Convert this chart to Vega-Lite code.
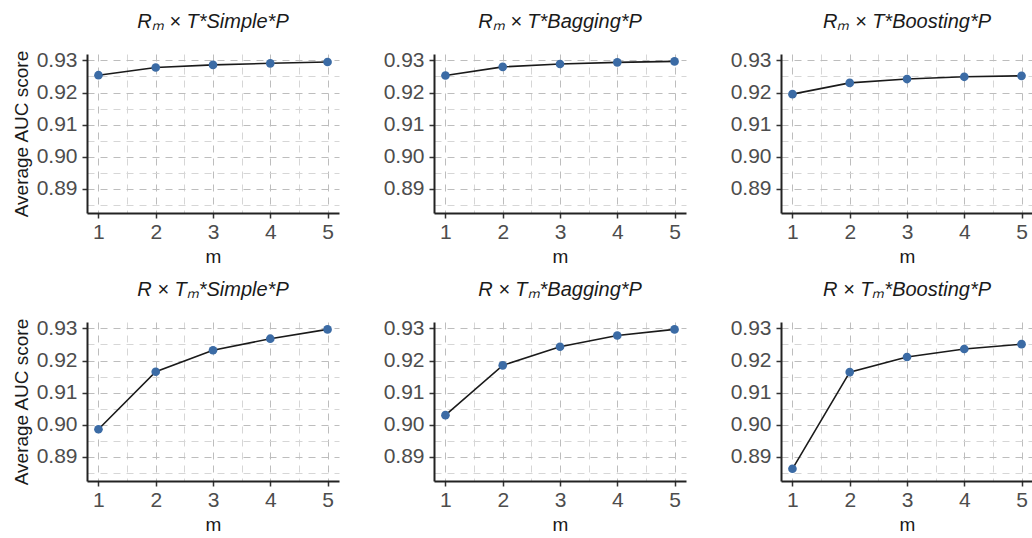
{
  "$schema": "https://vega.github.io/schema/vega-lite/v6.json",
  "padding": {"left": 12, "top": 12, "right": 0, "bottom": 0},
  "background": "white",
  "datasets": {
    "auc": [
      {"panel": "Rₘ × T*Simple*P", "m": 1, "auc": 0.9254},
      {"panel": "Rₘ × T*Simple*P", "m": 2, "auc": 0.9278},
      {"panel": "Rₘ × T*Simple*P", "m": 3, "auc": 0.9286},
      {"panel": "Rₘ × T*Simple*P", "m": 4, "auc": 0.9291},
      {"panel": "Rₘ × T*Simple*P", "m": 5, "auc": 0.9295},
      {"panel": "Rₘ × T*Bagging*P", "m": 1, "auc": 0.9253},
      {"panel": "Rₘ × T*Bagging*P", "m": 2, "auc": 0.9280},
      {"panel": "Rₘ × T*Bagging*P", "m": 3, "auc": 0.9289},
      {"panel": "Rₘ × T*Bagging*P", "m": 4, "auc": 0.9294},
      {"panel": "Rₘ × T*Bagging*P", "m": 5, "auc": 0.9297},
      {"panel": "Rₘ × T*Boosting*P", "m": 1, "auc": 0.9195},
      {"panel": "Rₘ × T*Boosting*P", "m": 2, "auc": 0.9230},
      {"panel": "Rₘ × T*Boosting*P", "m": 3, "auc": 0.9242},
      {"panel": "Rₘ × T*Boosting*P", "m": 4, "auc": 0.9249},
      {"panel": "Rₘ × T*Boosting*P", "m": 5, "auc": 0.9252},
      {"panel": "R × Tₘ*Simple*P", "m": 1, "auc": 0.8986},
      {"panel": "R × Tₘ*Simple*P", "m": 2, "auc": 0.9165},
      {"panel": "R × Tₘ*Simple*P", "m": 3, "auc": 0.9232},
      {"panel": "R × Tₘ*Simple*P", "m": 4, "auc": 0.9268},
      {"panel": "R × Tₘ*Simple*P", "m": 5, "auc": 0.9297},
      {"panel": "R × Tₘ*Bagging*P", "m": 1, "auc": 0.9030},
      {"panel": "R × Tₘ*Bagging*P", "m": 2, "auc": 0.9185},
      {"panel": "R × Tₘ*Bagging*P", "m": 3, "auc": 0.9243},
      {"panel": "R × Tₘ*Bagging*P", "m": 4, "auc": 0.9278},
      {"panel": "R × Tₘ*Bagging*P", "m": 5, "auc": 0.9297},
      {"panel": "R × Tₘ*Boosting*P", "m": 1, "auc": 0.8863},
      {"panel": "R × Tₘ*Boosting*P", "m": 2, "auc": 0.9164},
      {"panel": "R × Tₘ*Boosting*P", "m": 3, "auc": 0.9211},
      {"panel": "R × Tₘ*Boosting*P", "m": 4, "auc": 0.9236},
      {"panel": "R × Tₘ*Boosting*P", "m": 5, "auc": 0.9251}
    ]
  },
  "columns": 3,
  "spacing": {"row": 14, "column": 20},
  "concat": [
    {
      "title": "Rₘ × T*Simple*P",
      "data": {"name": "auc"},
      "transform": [{"filter": "datum.panel === 'Rₘ × T*Simple*P'"}],
      "width": 252, "height": 159,
      "encoding": {
        "x": {"field": "m", "type": "quantitative", "scale": {"domain": [0.8, 5.2], "nice": false, "zero": false},
              "axis": {"title": "m", "labelPadding": 3, "values": [1, 1.5, 2, 2.5, 3, 3.5, 4, 4.5, 5], "labelExpr": "datum.value % 1 === 0 ? format(datum.value, 'd') : ''", "tickOpacity": {"condition": {"test": "datum.value % 1 !== 0", "value": 0}, "value": 1}, "gridColor": {"condition": {"test": "datum.value % 1 !== 0", "value": "#d6d6d6"}, "value": "#bdbdbd"}}},
        "y": {"field": "auc", "type": "quantitative", "scale": {"domain": [0.8825, 0.932], "nice": false, "zero": false},
              "axis": {"title": "Average AUC score", "values": [0.885, 0.89, 0.895, 0.9, 0.905, 0.91, 0.915, 0.92, 0.925, 0.93], "labelExpr": "round(datum.value * 200) % 2 === 0 ? format(datum.value, '.2f') : ''", "tickOpacity": {"condition": {"test": "round(datum.value * 200) % 2 === 1", "value": 0}, "value": 1}, "gridColor": {"condition": {"test": "round(datum.value * 200) % 2 === 1", "value": "#d6d6d6"}, "value": "#bdbdbd"}}}
      },
      "layer": [
        {"mark": {"type": "line", "color": "#1a1a1a", "strokeWidth": 1.6}},
        {"mark": {"type": "circle", "size": 75, "color": "#3b6ba5", "opacity": 1}}
      ]
    },
    {
      "title": "Rₘ × T*Bagging*P",
      "data": {"name": "auc"},
      "transform": [{"filter": "datum.panel === 'Rₘ × T*Bagging*P'"}],
      "width": 252, "height": 159,
      "encoding": {
        "x": {"field": "m", "type": "quantitative", "scale": {"domain": [0.8, 5.2], "nice": false, "zero": false},
              "axis": {"title": "m", "labelPadding": 3, "values": [1, 1.5, 2, 2.5, 3, 3.5, 4, 4.5, 5], "labelExpr": "datum.value % 1 === 0 ? format(datum.value, 'd') : ''", "tickOpacity": {"condition": {"test": "datum.value % 1 !== 0", "value": 0}, "value": 1}, "gridColor": {"condition": {"test": "datum.value % 1 !== 0", "value": "#d6d6d6"}, "value": "#bdbdbd"}}},
        "y": {"field": "auc", "type": "quantitative", "scale": {"domain": [0.8825, 0.932], "nice": false, "zero": false},
              "axis": {"title": "Average AUC score", "titleOpacity": 0, "values": [0.885, 0.89, 0.895, 0.9, 0.905, 0.91, 0.915, 0.92, 0.925, 0.93], "labelExpr": "round(datum.value * 200) % 2 === 0 ? format(datum.value, '.2f') : ''", "tickOpacity": {"condition": {"test": "round(datum.value * 200) % 2 === 1", "value": 0}, "value": 1}, "gridColor": {"condition": {"test": "round(datum.value * 200) % 2 === 1", "value": "#d6d6d6"}, "value": "#bdbdbd"}}}
      },
      "layer": [
        {"mark": {"type": "line", "color": "#1a1a1a", "strokeWidth": 1.6}},
        {"mark": {"type": "circle", "size": 75, "color": "#3b6ba5", "opacity": 1}}
      ]
    },
    {
      "title": "Rₘ × T*Boosting*P",
      "data": {"name": "auc"},
      "transform": [{"filter": "datum.panel === 'Rₘ × T*Boosting*P'"}],
      "width": 252, "height": 159,
      "encoding": {
        "x": {"field": "m", "type": "quantitative", "scale": {"domain": [0.8, 5.2], "nice": false, "zero": false},
              "axis": {"title": "m", "labelPadding": 3, "values": [1, 1.5, 2, 2.5, 3, 3.5, 4, 4.5, 5], "labelExpr": "datum.value % 1 === 0 ? format(datum.value, 'd') : ''", "tickOpacity": {"condition": {"test": "datum.value % 1 !== 0", "value": 0}, "value": 1}, "gridColor": {"condition": {"test": "datum.value % 1 !== 0", "value": "#d6d6d6"}, "value": "#bdbdbd"}}},
        "y": {"field": "auc", "type": "quantitative", "scale": {"domain": [0.8825, 0.932], "nice": false, "zero": false},
              "axis": {"title": "Average AUC score", "titleOpacity": 0, "values": [0.885, 0.89, 0.895, 0.9, 0.905, 0.91, 0.915, 0.92, 0.925, 0.93], "labelExpr": "round(datum.value * 200) % 2 === 0 ? format(datum.value, '.2f') : ''", "tickOpacity": {"condition": {"test": "round(datum.value * 200) % 2 === 1", "value": 0}, "value": 1}, "gridColor": {"condition": {"test": "round(datum.value * 200) % 2 === 1", "value": "#d6d6d6"}, "value": "#bdbdbd"}}}
      },
      "layer": [
        {"mark": {"type": "line", "color": "#1a1a1a", "strokeWidth": 1.6}},
        {"mark": {"type": "circle", "size": 75, "color": "#3b6ba5", "opacity": 1}}
      ]
    },
    {
      "title": "R × Tₘ*Simple*P",
      "data": {"name": "auc"},
      "transform": [{"filter": "datum.panel === 'R × Tₘ*Simple*P'"}],
      "width": 252, "height": 159,
      "encoding": {
        "x": {"field": "m", "type": "quantitative", "scale": {"domain": [0.8, 5.2], "nice": false, "zero": false},
              "axis": {"title": "m", "labelPadding": 3, "values": [1, 1.5, 2, 2.5, 3, 3.5, 4, 4.5, 5], "labelExpr": "datum.value % 1 === 0 ? format(datum.value, 'd') : ''", "tickOpacity": {"condition": {"test": "datum.value % 1 !== 0", "value": 0}, "value": 1}, "gridColor": {"condition": {"test": "datum.value % 1 !== 0", "value": "#d6d6d6"}, "value": "#bdbdbd"}}},
        "y": {"field": "auc", "type": "quantitative", "scale": {"domain": [0.8825, 0.932], "nice": false, "zero": false},
              "axis": {"title": "Average AUC score", "values": [0.885, 0.89, 0.895, 0.9, 0.905, 0.91, 0.915, 0.92, 0.925, 0.93], "labelExpr": "round(datum.value * 200) % 2 === 0 ? format(datum.value, '.2f') : ''", "tickOpacity": {"condition": {"test": "round(datum.value * 200) % 2 === 1", "value": 0}, "value": 1}, "gridColor": {"condition": {"test": "round(datum.value * 200) % 2 === 1", "value": "#d6d6d6"}, "value": "#bdbdbd"}}}
      },
      "layer": [
        {"mark": {"type": "line", "color": "#1a1a1a", "strokeWidth": 1.6}},
        {"mark": {"type": "circle", "size": 75, "color": "#3b6ba5", "opacity": 1}}
      ]
    },
    {
      "title": "R × Tₘ*Bagging*P",
      "data": {"name": "auc"},
      "transform": [{"filter": "datum.panel === 'R × Tₘ*Bagging*P'"}],
      "width": 252, "height": 159,
      "encoding": {
        "x": {"field": "m", "type": "quantitative", "scale": {"domain": [0.8, 5.2], "nice": false, "zero": false},
              "axis": {"title": "m", "labelPadding": 3, "values": [1, 1.5, 2, 2.5, 3, 3.5, 4, 4.5, 5], "labelExpr": "datum.value % 1 === 0 ? format(datum.value, 'd') : ''", "tickOpacity": {"condition": {"test": "datum.value % 1 !== 0", "value": 0}, "value": 1}, "gridColor": {"condition": {"test": "datum.value % 1 !== 0", "value": "#d6d6d6"}, "value": "#bdbdbd"}}},
        "y": {"field": "auc", "type": "quantitative", "scale": {"domain": [0.8825, 0.932], "nice": false, "zero": false},
              "axis": {"title": "Average AUC score", "titleOpacity": 0, "values": [0.885, 0.89, 0.895, 0.9, 0.905, 0.91, 0.915, 0.92, 0.925, 0.93], "labelExpr": "round(datum.value * 200) % 2 === 0 ? format(datum.value, '.2f') : ''", "tickOpacity": {"condition": {"test": "round(datum.value * 200) % 2 === 1", "value": 0}, "value": 1}, "gridColor": {"condition": {"test": "round(datum.value * 200) % 2 === 1", "value": "#d6d6d6"}, "value": "#bdbdbd"}}}
      },
      "layer": [
        {"mark": {"type": "line", "color": "#1a1a1a", "strokeWidth": 1.6}},
        {"mark": {"type": "circle", "size": 75, "color": "#3b6ba5", "opacity": 1}}
      ]
    },
    {
      "title": "R × Tₘ*Boosting*P",
      "data": {"name": "auc"},
      "transform": [{"filter": "datum.panel === 'R × Tₘ*Boosting*P'"}],
      "width": 252, "height": 159,
      "encoding": {
        "x": {"field": "m", "type": "quantitative", "scale": {"domain": [0.8, 5.2], "nice": false, "zero": false},
              "axis": {"title": "m", "labelPadding": 3, "values": [1, 1.5, 2, 2.5, 3, 3.5, 4, 4.5, 5], "labelExpr": "datum.value % 1 === 0 ? format(datum.value, 'd') : ''", "tickOpacity": {"condition": {"test": "datum.value % 1 !== 0", "value": 0}, "value": 1}, "gridColor": {"condition": {"test": "datum.value % 1 !== 0", "value": "#d6d6d6"}, "value": "#bdbdbd"}}},
        "y": {"field": "auc", "type": "quantitative", "scale": {"domain": [0.8825, 0.932], "nice": false, "zero": false},
              "axis": {"title": "Average AUC score", "titleOpacity": 0, "values": [0.885, 0.89, 0.895, 0.9, 0.905, 0.91, 0.915, 0.92, 0.925, 0.93], "labelExpr": "round(datum.value * 200) % 2 === 0 ? format(datum.value, '.2f') : ''", "tickOpacity": {"condition": {"test": "round(datum.value * 200) % 2 === 1", "value": 0}, "value": 1}, "gridColor": {"condition": {"test": "round(datum.value * 200) % 2 === 1", "value": "#d6d6d6"}, "value": "#bdbdbd"}}}
      },
      "layer": [
        {"mark": {"type": "line", "color": "#1a1a1a", "strokeWidth": 1.6}},
        {"mark": {"type": "circle", "size": 75, "color": "#3b6ba5", "opacity": 1}}
      ]
    }
  ],
  "config": {
    "font": "Liberation Sans",
    "view": {"stroke": null},
    "title": {"fontSize": 20, "fontStyle": "italic", "fontWeight": "normal", "color": "#1a1a1a", "offset": 17, "anchor": "middle"},
    "axis": {
      "domainColor": "#222222", "domainWidth": 2,
      "tickColor": "#333333", "tickWidth": 1.5, "tickSize": 5,
      "labelFontSize": 21, "labelColor": "#4d4d4d", "labelPadding": 5, "labelOverlap": false, "labelFlush": false,
      "titleFontSize": 19, "titleFontWeight": "normal", "titleColor": "#1a1a1a", "titlePadding": 5,
      "gridDash": [7, 6], "gridWidth": 1
    }
  }
}
